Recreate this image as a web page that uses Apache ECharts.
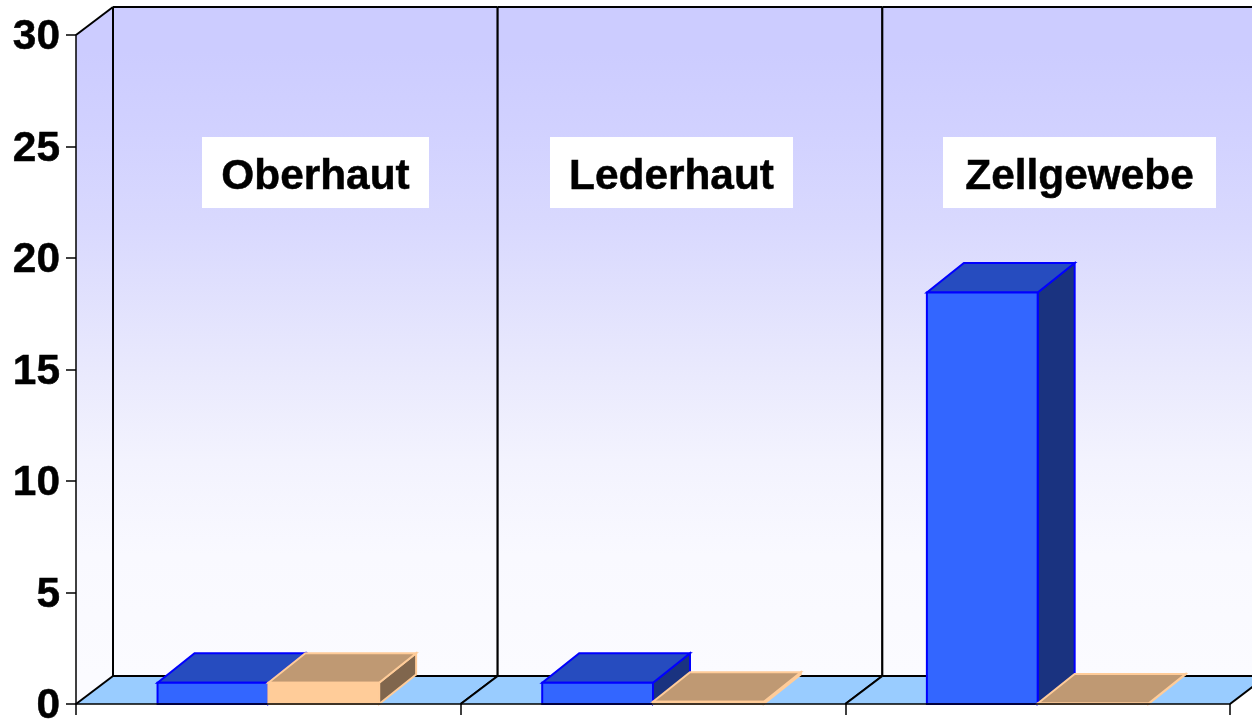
<!DOCTYPE html>
<html>
<head>
<meta charset="utf-8">
<style>
  html, body { margin: 0; padding: 0; background: #fff; }
  #chart { width: 1252px; height: 720px; }
</style>
<script src="https://cdn.jsdelivr.net/npm/echarts@6/dist/echarts.min.js"></script>
</head>
<body>
<div id="chart"></div>
<script>
var categories = ["Oberhaut", "Lederhaut", "Zellgewebe"];
var blueValues = [0.95, 0.95, 18.45];
var peachValues = [0.95, 0.1, 0.02];

var FONT = '"Liberation Sans", Arial, sans-serif';
var WALL_DX = 37, WALL_DY = 28;
var BAR_DX = 37, BAR_DY = 29.5;

var chart = echarts.init(document.getElementById("chart"), null, { renderer: "canvas" });

function line(x1, y1, x2, y2) {
  return {
    type: "line",
    shape: { x1: x1, y1: y1, x2: x2, y2: y2 },
    style: { stroke: "#000", lineWidth: 2 }
  };
}

function poly(points, fill, stroke) {
  return {
    type: "polygon",
    shape: { points: points },
    style: { fill: fill, stroke: stroke || null, lineWidth: stroke ? 2 : 0, lineJoin: "miter" }
  };
}

// floor and back walls, one panel per category
function renderWalls(params, api) {
  var i = api.value(0);
  var w = api.size([1, 0])[0];
  var low = api.coord([i, 0]);
  var high = api.coord([i, 30]);
  var x0 = low[0] - w / 2, x1 = low[0] + w / 2;
  var y0 = low[1], y30 = high[1];
  var wall = new echarts.graphic.LinearGradient(0, y30 - WALL_DY, 0, y0 - WALL_DY, [
    { offset: 0, color: "#CCCCFF" },
    { offset: 0.065, color: "#CCCCFF" },
    { offset: 0.18, color: "#D1D1FF" },
    { offset: 0.33, color: "#D9D9FE" },
    { offset: 0.54, color: "#E9E9FD" },
    { offset: 0.68, color: "#F3F3FE" },
    { offset: 0.82, color: "#F9F9FF" },
    { offset: 1, color: "#FBFBFF" }
  ], true);
  var kids = [
    poly([[x0, y0], [x1, y0], [x1 + WALL_DX, y0 - WALL_DY], [x0 + WALL_DX, y0 - WALL_DY]], "#99CCFF"),
    poly([[x0 + WALL_DX, y30 - WALL_DY], [x1 + WALL_DX, y30 - WALL_DY], [x1 + WALL_DX, y0 - WALL_DY], [x0 + WALL_DX, y0 - WALL_DY]], wall),
    line(x0, y0, x0 + WALL_DX, y0 - WALL_DY),
    line(x1, y0, x1 + WALL_DX, y0 - WALL_DY),
    line(x0 + WALL_DX, y0 - WALL_DY, x1 + WALL_DX, y0 - WALL_DY),
    line(x0 + WALL_DX, y30 - WALL_DY, x1 + WALL_DX, y30 - WALL_DY),
    line(x0 + WALL_DX, y30 - WALL_DY, x0 + WALL_DX, y0 - WALL_DY),
    line(x1 + WALL_DX, y30 - WALL_DY, x1 + WALL_DX, y0 - WALL_DY)
  ];
  if (i === 0) {
    kids.unshift(poly([[x0, y30], [x0 + WALL_DX, y30 - WALL_DY], [x0 + WALL_DX, y0 - WALL_DY], [x0, y0]], wall));
    kids.push(line(x0, y30, x0 + WALL_DX, y30 - WALL_DY));
  }
  return { type: "group", children: kids };
}

function barRenderer(side, colors) {
  return function (params, api) {
    var i = api.value(0);
    var top = api.coord([i, api.value(1)]);
    var bottom = api.coord([i, 0]);
    var bw = api.size([1, 0])[0] * 0.288;
    var x0 = top[0] + (side < 0 ? -bw : 0);
    var x1 = x0 + bw;
    var y1 = top[1], y0 = bottom[1];
    return {
      type: "group",
      children: [
        poly([[x1, y1], [x1 + BAR_DX, y1 - BAR_DY], [x1 + BAR_DX, y0 - BAR_DY], [x1, y0]], colors.side, colors.line),
        poly([[x0, y1], [x0 + BAR_DX, y1 - BAR_DY], [x1 + BAR_DX, y1 - BAR_DY], [x1, y1]], colors.top, colors.line),
        poly([[x0, y1], [x1, y1], [x1, y0], [x0, y0]], colors.front, colors.line)
      ]
    };
  };
}

function labelBox(text, cx, w) {
  return {
    type: "group",
    x: cx,
    y: 172.5,
    children: [
      { type: "rect", z: 10, shape: { x: -w / 2, y: -35.5, width: w, height: 71 }, style: { fill: "#fff" } },
      {
        type: "text",
        z: 11,
        style: {
          text: text, x: 0, y: 5, align: "center", verticalAlign: "middle",
          font: "bold 42.4px " + FONT, fill: "#000", stroke: "#000", lineWidth: 0.5
        }
      }
    ]
  };
}

chart.setOption({
  animation: false,
  grid: { left: 76, top: 35, width: 1154, height: 669, outerBoundsMode: "none" },
  xAxis: {
    type: "category",
    data: categories,
    z: 3,
    axisLine: { lineStyle: { color: "#000", width: 1.5 } },
    axisTick: { show: true, length: 11, lineStyle: { color: "#000", width: 1.5 } },
    axisLabel: { show: false },
    splitLine: { show: false }
  },
  yAxis: {
    type: "value",
    min: 0,
    max: 30,
    interval: 5,
    z: 3,
    axisLine: { show: true, lineStyle: { color: "#000", width: 1.5 } },
    axisTick: { show: true, length: 10, lineStyle: { color: "#000", width: 1.5 } },
    axisLabel: {
      margin: 16,
      formatter: "{v|{value}}",
      rich: {
        v: {
          color: "#000", fontFamily: FONT, fontWeight: "bold", fontSize: 42.4,
          padding: [5, 0, 0, 0], textBorderColor: "#000", textBorderWidth: 0.5
        }
      }
    },
    splitLine: { show: false }
  },
  series: [
    {
      type: "custom",
      z: 1,
      silent: true,
      renderItem: renderWalls,
      encode: { x: 0, y: 1 },
      data: categories.map(function (c, i) { return [i, 0]; })
    },
    {
      type: "custom",
      z: 2,
      name: "blue",
      renderItem: barRenderer(-1, { front: "#3366FF", top: "#264CBF", side: "#1A3380", line: "#0000FF" }),
      encode: { x: 0, y: 1 },
      data: blueValues.map(function (v, i) { return [i, v]; })
    },
    {
      type: "custom",
      z: 2,
      name: "peach",
      renderItem: barRenderer(1, { front: "#FFCC99", top: "#BF9973", side: "#80664D", line: "#FFCC99" }),
      encode: { x: 0, y: 1 },
      data: peachValues.map(function (v, i) { return [i, v]; })
    }
  ],
  graphic: [
    labelBox(categories[0], 315.5, 227),
    labelBox(categories[1], 671.5, 243),
    labelBox(categories[2], 1079.5, 273)
  ]
});
</script>
</body>
</html>
